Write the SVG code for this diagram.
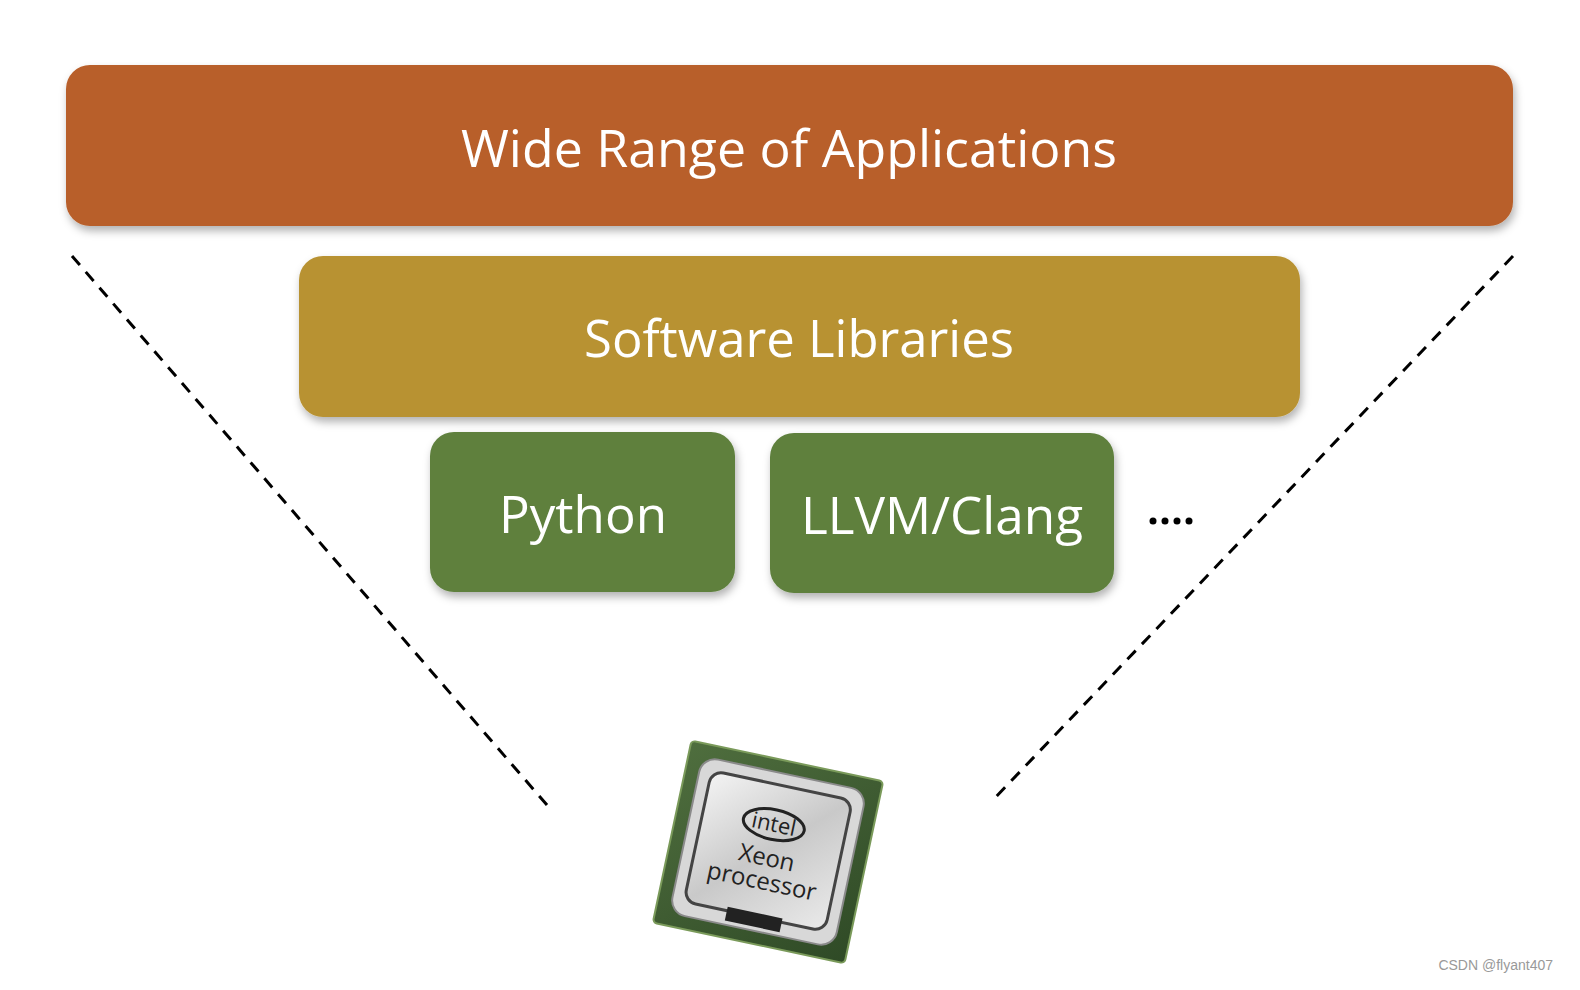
<svg xmlns="http://www.w3.org/2000/svg" width="1580" height="990" viewBox="0 0 1580 990">
<defs>
<filter id="sh" x="-5%" y="-10%" width="110%" height="130%"><feDropShadow dx="2" dy="5" stdDeviation="4" flood-color="#000" flood-opacity="0.3"/></filter>
<linearGradient id="silver" x1="0" y1="0" x2="1" y2="1"><stop offset="0" stop-color="#f4f4f4"/><stop offset="0.5" stop-color="#c9c9c9"/><stop offset="1" stop-color="#eaeaea"/></linearGradient>
<linearGradient id="grn" x1="0" y1="0" x2="1" y2="1"><stop offset="0" stop-color="#4f6e3e"/><stop offset="1" stop-color="#2f4a26"/></linearGradient>
</defs>
<style>
.lbl{font-family:"Open Sans","Noto Sans",sans-serif;fill:#fff;text-anchor:middle}
.dash{stroke:#000;stroke-width:3;stroke-dasharray:12,9;fill:none}
</style>
<rect width="1580" height="990" fill="#fff"/>
<g id="connectors">
<line class="dash" x1="72" y1="256" x2="547" y2="805"/>
<line class="dash" x1="1513" y1="256" x2="991" y2="802"/>
</g>
<g id="apps"><rect x="66" y="65" width="1447" height="161" rx="24" fill="#b85e29" filter="url(#sh)"/>
<text class="lbl" x="789" y="167" font-size="52" textLength="656" lengthAdjust="spacingAndGlyphs">Wide Range of Applications</text></g>
<g id="libs"><rect x="299" y="256" width="1001" height="161" rx="24" fill="#b89232" filter="url(#sh)"/>
<text class="lbl" x="799" y="357" font-size="52" textLength="430" lengthAdjust="spacingAndGlyphs">Software Libraries</text></g>
<g id="python"><rect x="430" y="432" width="305" height="160" rx="24" fill="#5f803e" filter="url(#sh)"/>
<text class="lbl" x="583" y="533" font-size="52" textLength="168" lengthAdjust="spacingAndGlyphs">Python</text></g>
<g id="llvm"><rect x="770" y="433" width="344" height="160" rx="24" fill="#5f803e" filter="url(#sh)"/>
<text class="lbl" x="942" y="534" font-size="52" textLength="282" lengthAdjust="spacingAndGlyphs">LLVM/Clang</text></g>
<g id="dots" fill="#000"><circle cx="1153" cy="521" r="3.5"/><circle cx="1165" cy="521" r="3.5"/><circle cx="1177" cy="521" r="3.5"/><circle cx="1189" cy="521" r="3.5"/></g>
<g id="cpu" transform="translate(768,852) rotate(12)">
<rect x="-98" y="-93" width="196" height="186" rx="4" fill="url(#grn)" stroke="#7a9a5a" stroke-width="2"/>
<rect x="-84" y="-80" width="168" height="160" rx="16" fill="#d8d8d8" stroke="#8a8a8a" stroke-width="2"/>
<rect x="-72" y="-68" width="144" height="134" rx="12" fill="url(#silver)" stroke="#444" stroke-width="3"/>
<rect x="-28" y="62" width="56" height="14" fill="#222"/>
<ellipse cx="0" cy="-28" rx="31" ry="15" fill="none" stroke="#222" stroke-width="3"/>
<text x="0" y="-21" font-family="Open Sans,sans-serif" font-size="22" fill="#222" text-anchor="middle">intel</text>
<text x="0" y="14" font-family="Open Sans,sans-serif" font-size="24" fill="#222" text-anchor="middle">Xeon</text>
<text x="0" y="38" font-family="Open Sans,sans-serif" font-size="24" fill="#222" text-anchor="middle">processor</text>
</g>
<text x="1553" y="970" font-family="Liberation Sans,sans-serif" font-size="14" fill="#999" text-anchor="end">CSDN @flyant407</text>
</svg>
